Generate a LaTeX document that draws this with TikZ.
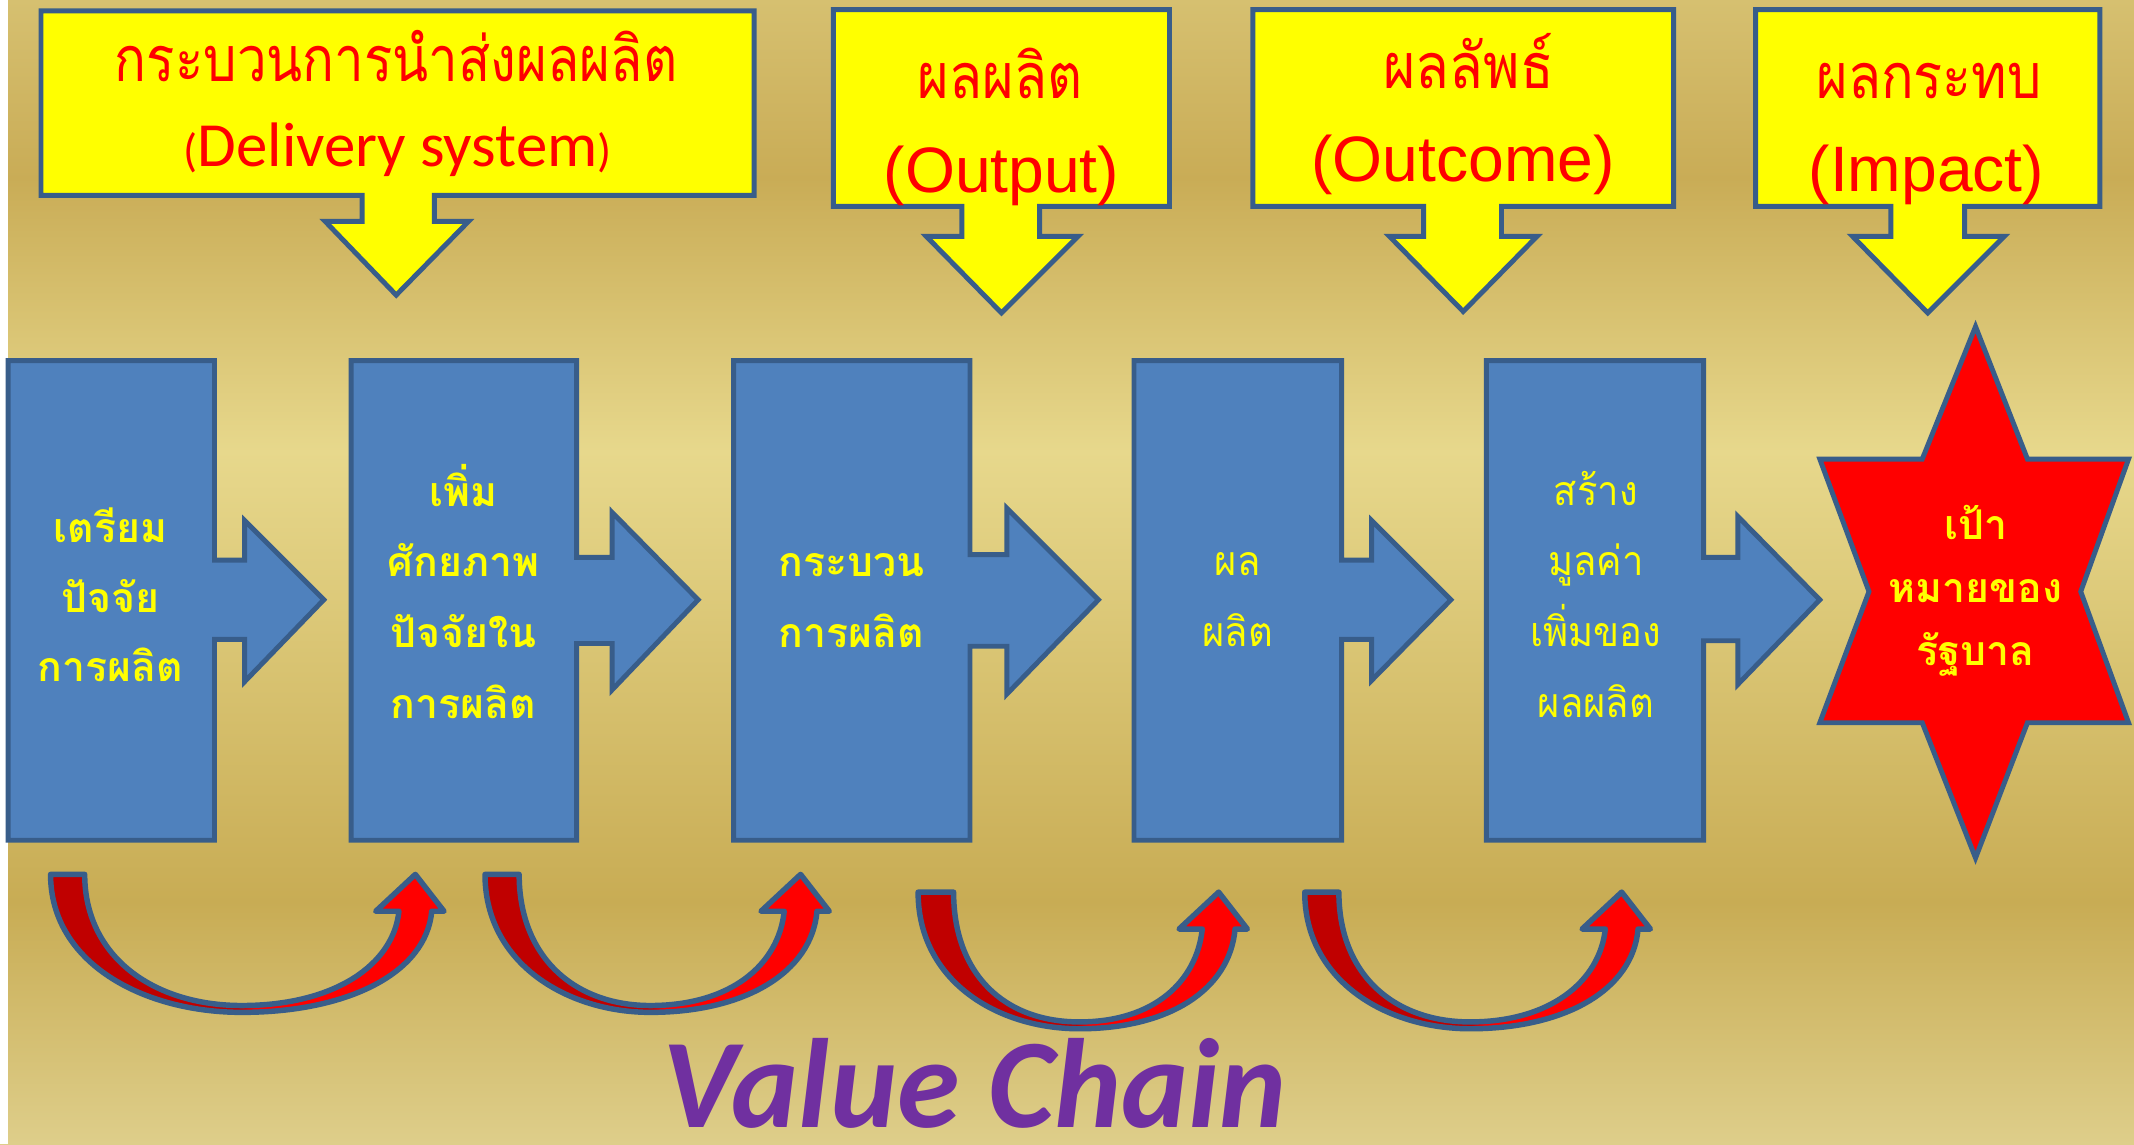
\documentclass[tikz,border=0pt]{standalone}
\usepackage{fontspec}
\usepackage{graphicx}
\setmainfont{Carlito}
\newfontfamily\thaifont[Script=Thai]{Loma}
\newfontfamily\arialfont{Liberation Sans}
\usetikzlibrary{positioning}

\definecolor{bgA}{RGB}{214,192,112}
\definecolor{bgB}{RGB}{201,172,86}
\definecolor{bgC}{RGB}{231,216,140}
\definecolor{bgD}{RGB}{200,172,84}
\definecolor{bgE}{RGB}{222,206,138}
\definecolor{outline}{RGB}{56,93,138}
\definecolor{blockblue}{RGB}{79,129,189}
\definecolor{boxyellow}{RGB}{255,255,0}
\definecolor{darkred}{RGB}{192,0,0}
\definecolor{brightred}{RGB}{255,0,0}
\definecolor{chainpurple}{RGB}{112,48,160}

\pgfdeclarehorizontalshading{redsplit}{100bp}{color(0bp)=(darkred); color(49bp)=(darkred); color(51bp)=(brightred); color(100bp)=(brightred)}

\tikzset{
  callout/.style={draw=outline, line width=3.6pt, fill=boxyellow, line join=miter},
  blockarrow/.style={draw=outline, line width=3.6pt, fill=blockblue, line join=miter},
  goalstar/.style={draw=outline, line width=3.6pt, fill=brightred, line join=miter},
  turnarrow/.style={draw=outline, line width=4pt, shading=redsplit, line join=round},
  calltitle/.style={anchor=base, inner sep=0pt, text=brightred, font=\thaifont\fontsize{46}{46}\selectfont},
  callarial/.style={anchor=base, inner sep=0pt, text=brightred, font=\arialfont\fontsize{47}{47}\selectfont},
  calllatin/.style={anchor=base, inner sep=0pt, text=brightred, font=\fontsize{46}{46}\selectfont},
  boldthai/.style={anchor=base, inner sep=0pt, text=boxyellow, font=\thaifont\bfseries\fontsize{30}{30}\selectfont},
  plainthai/.style={anchor=base, inner sep=0pt, text=boxyellow, font=\thaifont\fontsize{30}{30}\selectfont},
}

\begin{document}
\begin{tikzpicture}[x=1pt,y=-1pt]

% background
\useasboundingbox (0,0) rectangle (1562,837.4);
\shade[top color=bgA, bottom color=bgB] (0,0) rectangle (1562,131);
\shade[top color=bgB, bottom color=bgC] (0,130) rectangle (1562,331);
\shade[top color=bgC, bottom color=bgD] (0,330) rectangle (1562,661);
\shade[top color=bgD, bottom color=bgE] (0,660) rectangle (1562,837.4);
\fill[white] (0,0) rectangle (6,837.4);

% callouts
\draw[callout] (30,8) -- (552,8) -- (552,143) -- (318,143) -- (318,162) -- (343,162) -- (290,216) -- (238,162) -- (265,162) -- (265,143) -- (30,143) -- cycle;
\draw[callout] (610,7) -- (856,7) -- (856,151) -- (761,151) -- (761,173) -- (789,173) -- (733,229) -- (678,173) -- (704,173) -- (704,151) -- (610,151) -- cycle;
\draw[callout] (917,7) -- (1225,7) -- (1225,151) -- (1099,151) -- (1099,173) -- (1125,173) -- (1071,228) -- (1017,173) -- (1042,173) -- (1042,151) -- (917,151) -- cycle;
\draw[callout] (1285,7) -- (1537,7) -- (1537,151) -- (1438,151) -- (1438,173) -- (1467,173) -- (1411,229) -- (1356,173) -- (1384,173) -- (1384,151) -- (1285,151) -- cycle;

\node[calltitle] (dlv-th) at (290,60) {\scalebox{0.84}[1]{กระบวนการนำส่งผลผลิต}};
\node[calllatin] (dlv-en) at (291,122) {{\fontsize{34}{34}\selectfont(}Delivery system{\fontsize{34}{34}\selectfont)}};
\node[calltitle] (out-th) at (732,72) {\scalebox{0.86}[1]{ผลผลิต}};
\node[callarial] (out-en) at (733,141) {(Output)};
\node[calltitle] (occ-th) at (1075,65) {\scalebox{0.88}[1]{ผลลัพธ์}};
\node[callarial] (occ-en) at (1071,133) {(Outcome)};
\node[calltitle] (imp-th) at (1412,72) {\scalebox{0.86}[1]{ผลกระทบ}};
\node[callarial] (imp-en) at (1410,140) {(Impact)};

% value chain blocks
\draw[blockarrow] (6,264) -- (157,264) -- (157,410) -- (179,410) -- (179,381) -- (237,439) -- (179,499) -- (179,468) -- (157,468) -- (157,615) -- (6,615) -- cycle;
\draw[blockarrow] (257,264) -- (422,264) -- (422,408) -- (448,408) -- (448,375) -- (511,439) -- (448,505) -- (448,471) -- (422,471) -- (422,615) -- (257,615) -- cycle;
\draw[blockarrow] (537,264) -- (710,264) -- (710,406) -- (737,406) -- (737,372) -- (804,439) -- (737,508) -- (737,473) -- (710,473) -- (710,615) -- (537,615) -- cycle;
\draw[blockarrow] (830,264) -- (982,264) -- (982,410) -- (1004,410) -- (1004,381) -- (1062,439) -- (1004,498) -- (1004,468) -- (982,468) -- (982,615) -- (830,615) -- cycle;
\draw[blockarrow] (1088,264) -- (1247,264) -- (1247,408) -- (1272,408) -- (1272,378) -- (1332,439) -- (1272,501) -- (1272,469) -- (1247,469) -- (1247,615) -- (1088,615) -- cycle;

\draw[goalstar] (1446,239) -- (1484,336) -- (1558,336) -- (1523,433) -- (1558,529) -- (1484,529) -- (1446,628) -- (1407,529) -- (1332,529) -- (1368,433) -- (1332,336) -- (1407,336) -- cycle;

\foreach \x/\y/\txt [count=\i] in {81/397/เตรียม, 81/448/ปัจจัย, 81/499/การผลิต,
    339/371/เพิ่ม, 339/422/ศักยภาพ, 339/474/ปัจจัยใน, 339/526/การผลิต,
    623/422/กระบวน, 623/474/การผลิต,
    1446/395/เป้า, 1446/441/หมายของ, 1446/487/รัฐบาล}
  \node[boldthai] (bold-\i) at (\x,\y) {\txt};

\foreach \x/\y/\txt [count=\i] in {906/421/ผล, 906/473/ผลิต,
    1168/370/สร้าง, 1168/421/มูลค่า, 1168/473/เพิ่มของ, 1168/525/ผลผลิต}
  \node[plainthai] (plain-\i) at (\x,\y) {\scalebox{0.93}[1]{\txt}};

% turning arrows underneath
\draw[turnarrow] (37,640) .. controls (37,705) and (105,741) .. (177,741) .. controls (255,741) and (312,712) .. (316,667) -- (325,667) -- (304,640) -- (275,667) -- (292,667) .. controls (288,706) and (245,736) .. (177,736) .. controls (112,736) and (62,700) .. (62,640) -- cycle;
\draw[turnarrow] (355,640) .. controls (355,705) and (415,741) .. (476,741) .. controls (545,741) and (594,712) .. (598,667) -- (607,667) -- (586,640) -- (557,667) -- (574,667) .. controls (570,706) and (535,736) .. (476,736) .. controls (420,736) and (380,700) .. (380,640) -- cycle;
\draw[turnarrow] (672,653) .. controls (672,718) and (730,753) .. (790,753) .. controls (855,753) and (900,725) .. (904,680) -- (913,680) -- (892,653) -- (863,680) -- (880,680) .. controls (876,718) and (845,748) .. (790,748) .. controls (735,748) and (698,713) .. (698,653) -- cycle;
\draw[turnarrow] (955,653) .. controls (955,718) and (1015,753) .. (1076,753) .. controls (1145,753) and (1195,725) .. (1199,680) -- (1208,680) -- (1187,653) -- (1158,680) -- (1175,680) .. controls (1171,718) and (1135,748) .. (1076,748) .. controls (1020,748) and (980,713) .. (980,653) -- cycle;

\node[anchor=base west, inner sep=0pt, text depth=0pt, text=chainpurple, font=\bfseries\itshape\fontsize{93}{93}\selectfont] (chain) at (485,825) {Value Chain};

\end{tikzpicture}
\end{document}
